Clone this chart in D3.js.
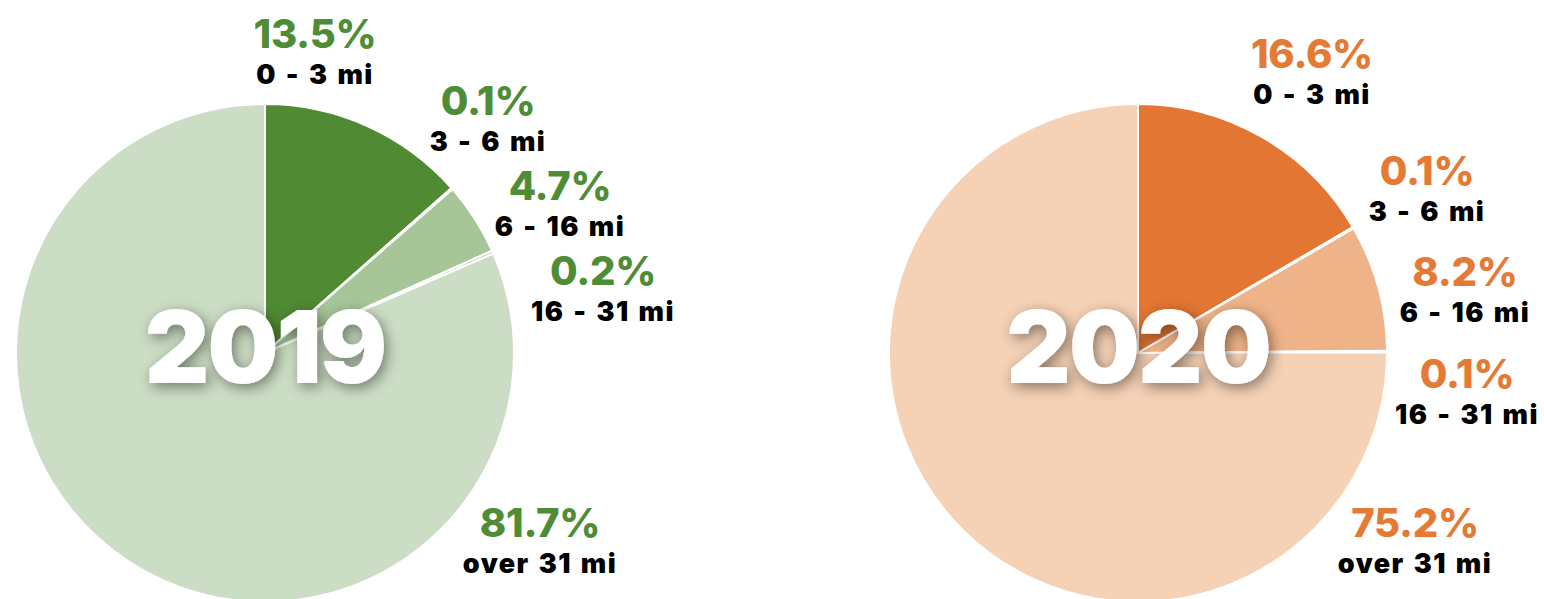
<!DOCTYPE html>
<html><head><meta charset="utf-8">
<script src="https://cdn.jsdelivr.net/npm/d3@7"></script>
<style>
html,body{margin:0;padding:0;background:#fff;}
svg{display:block;font-family:Inter,"Open Sans",sans-serif;}
</style></head>
<body><svg id="c" width="1544" height="599"></svg>
<script>
const categories = ["0 - 3 mi", "3 - 6 mi", "6 - 16 mi", "16 - 31 mi", "over 31 mi"];
const values2019 = [13.5, 0.1, 4.7, 0.2, 81.7];
const values2020 = [16.6, 0.1, 8.2, 0.1, 75.2];
const years = ["2019", "2020"];
const colors2019 = ["#508a33", "#7aa865", "#a6c698", "#b9d2ae", "#cbddc4"];
const colors2020 = ["#e27632", "#e8955e", "#efb389", "#f2c3a0", "#f5d1b5"];
const labelColors = ["#4f8c36", "#e47a33"];

const svg = d3.select("#c");
const defs = svg.append("defs");
const f = defs.append("filter").attr("id","sh").attr("x","-30%").attr("y","-30%").attr("width","160%").attr("height","160%");
f.append("feDropShadow").attr("dx",3).attr("dy",4).attr("stdDeviation",7).attr("flood-color","#000").attr("flood-opacity",0.45);

const R = 249;
const charts = [
  {cx: 265, cy: 353, vals: values2019, cols: colors2019, lc: labelColors[0], year: years[0],
   lab: [[50,-305],[223,-238],[295,-153],[338,-68],[275,184]]},
  {cx: 1138, cy: 353, vals: values2020, cols: colors2020, lc: labelColors[1], year: years[1],
   lab: [[174,-285],[289,-168],[327,-67],[329,35],[277,184]]}
];

const pie = d3.pie().sort(null).value(d => d.v);
const arc = d3.arc().innerRadius(0).outerRadius(R);

charts.forEach(ch => {
  const g = svg.append("g").attr("transform", `translate(${ch.cx},${ch.cy})`);
  const data = pie(categories.map((c,i) => ({c, v: ch.vals[i], i})));
  g.selectAll("path").data(data).join("path")
    .attr("d", arc)
    .attr("fill", d => ch.cols[d.data.i])
    .attr("stroke", "#fff").attr("stroke-width", 2).attr("stroke-linejoin","round");
  g.append("text").text(ch.year)
    .attr("x", 0).attr("y", 30)
    .attr("text-anchor","middle")
    .attr("font-size", 100).attr("font-weight", 900)
    .attr("letter-spacing", -2)
    .attr("fill","#fff").attr("filter","url(#sh)");
  const lg = g.selectAll("g.lab").data(data).join("g").attr("class","lab")
    .attr("transform", (d,i) => `translate(${ch.lab[i][0]},${ch.lab[i][1]})`);
  lg.append("text").text(d => d3.format(".1f")(d.data.v) + "%")
    .attr("text-anchor","middle").attr("font-size", 40).attr("font-weight", 800)
    .attr("letter-spacing", -0.3)
    .attr("fill", ch.lc);
  lg.append("text").text(d => d.data.c)
    .attr("y", 36)
    .attr("text-anchor","middle").attr("font-size", 27).attr("font-weight", 900)
    .attr("letter-spacing", 1.5).attr("word-spacing", 2)
    .attr("fill", "#000");
});
</script></body></html>
